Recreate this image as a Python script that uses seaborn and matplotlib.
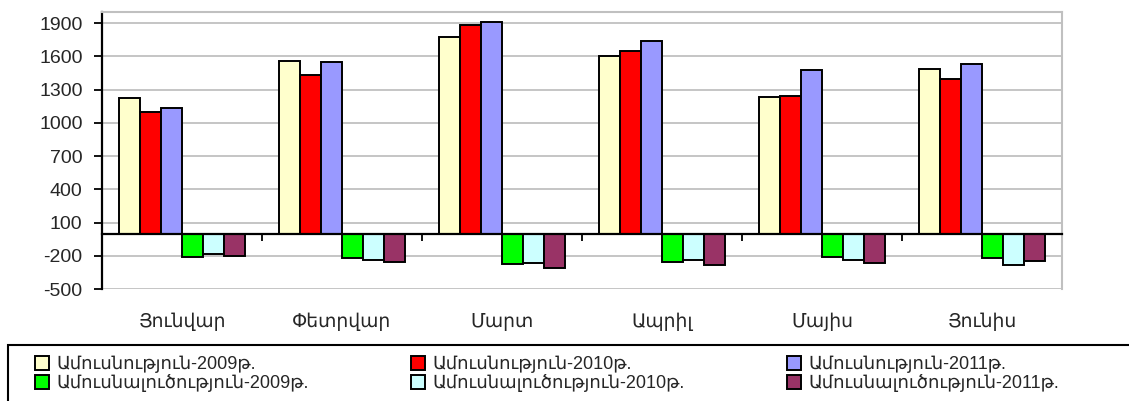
import pandas as pd
import matplotlib
matplotlib.use('Agg')
import matplotlib.pyplot as plt
import seaborn as sns
from matplotlib.patches import Rectangle
from matplotlib.ticker import FixedLocator

# %% data
months = ['Յունվար', 'Փետրվար', 'Մարտ', 'Ապրիլ', 'Մայիս', 'Յունիս']
series = ['Ամուսնություն-2009թ.', 'Ամուսնություն-2010թ.', 'Ամուսնություն-2011թ.',
          'Ամուսնալուծություն-2009թ.', 'Ամուսնալուծություն-2010թ.', 'Ամուսնալուծություն-2011թ.']
marr_2009 = [1226, 1555, 1771, 1606, 1231, 1487]
marr_2010 = [1096, 1435, 1885, 1645, 1244, 1393]
marr_2011 = [1132, 1546, 1910, 1741, 1474, 1528]
div_2009 = [-209, -218, -277, -256, -214, -218]
div_2010 = [-185, -238, -265, -238, -236, -286]
div_2011 = [-203, -259, -308, -283, -265, -247]
colors = ['#FFFFCC', '#FF0000', '#9999FF', '#00FF00', '#CCFFFF', '#993366']
y_ticks = [-500, -200, 100, 400, 700, 1000, 1300, 1600, 1900]

values = [marr_2009, marr_2010, marr_2011, div_2009, div_2010, div_2011]
rows = []
for s, vals in zip(series, values):
    for m, v in zip(months, vals):
        rows.append({'month': m, 'series': s, 'value': v})
df = pd.DataFrame(rows)

# %% plot
sns.set_style('white')
plt.rcParams['font.family'] = ['Liberation Sans', 'DejaVu Sans']

fig = plt.figure(figsize=(11.29, 4.01), dpi=100)
ax = fig.add_axes([0.0903, 0.2793, 0.8504, 0.6908])

sns.barplot(data=df, x='month', y='value', hue='series', order=months, hue_order=series,
            palette=colors, width=0.79, gap=0, edgecolor='black', linewidth=1.4,
            saturation=1, ax=ax, errorbar=None)

ax.set_ylim(-500, 2000)
ax.set_xlim(-0.5, len(months) - 0.5)
ax.set_yticks(y_ticks)
ax.set_yticklabels([str(t) for t in y_ticks], fontsize=14, family=['Liberation Sans', 'DejaVu Sans'])
ax.tick_params(axis='y', direction='out', length=6, width=1.3, color='black', pad=8, left=True)
ax.yaxis.grid(True, color='#c0c0c0', linewidth=1.3)
ax.set_axisbelow(True)

# category axis at zero
ax.spines['bottom'].set_position(('data', 0))
ax.spines['bottom'].set_color('black')
ax.spines['bottom'].set_linewidth(1.6)
ax.spines['left'].set_color('black')
ax.spines['left'].set_linewidth(1.6)
for side in ['top', 'right']:
    ax.spines[side].set_visible(True)
    ax.spines[side].set_color('#c0c0c0')
    ax.spines[side].set_linewidth(1.5)

ax.xaxis.set_minor_locator(FixedLocator([i + 0.5 for i in range(-1, len(months))]))
ax.tick_params(axis='x', which='minor', direction='out', length=5, width=1.3, color='black', bottom=True)
ax.tick_params(axis='x', which='major', length=0, pad=57, labelsize=13.5)
ax.set_xlabel('')
ax.set_ylabel('')

# legend
handles, labels = ax.get_legend_handles_labels()
ax.get_legend().remove()
order = [0, 3, 1, 4, 2, 5]
fig.legend([handles[i] for i in order], [labels[i] for i in order], ncol=3,
           loc='upper left', bbox_to_anchor=(0.031, 0.113), frameon=False,
           fontsize=13, handlelength=0.8, handleheight=0.8, handletextpad=0.4,
           columnspacing=5.65, labelspacing=0.05, borderpad=0, borderaxespad=0)
fig.patches.append(Rectangle((0.0071, -0.05), 1.0, 0.1397 + 0.05, transform=fig.transFigure,
                             fill=False, edgecolor='black', linewidth=1.5))

fig.savefig('out.png', dpi=100)
